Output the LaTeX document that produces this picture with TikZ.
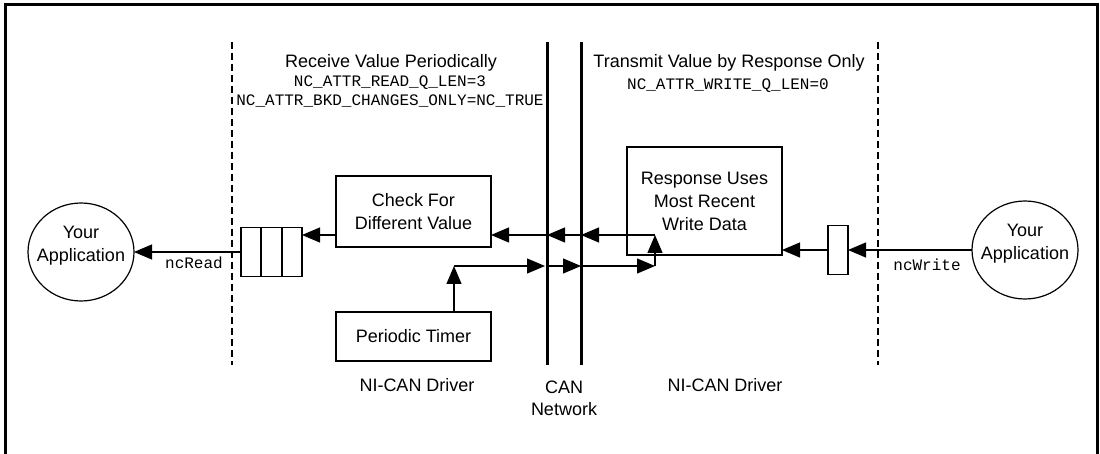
\documentclass[tikz,border=0pt]{standalone}
\usepackage{fontspec}
\setmainfont{Liberation Sans}
\newfontfamily\cmono{Liberation Mono}
\usetikzlibrary{arrows.meta,shapes.geometric}
\begin{document}
\begin{tikzpicture}[x=1pt,y=-1pt,
  sans/.style={font=\fontsize{18}{23}\selectfont},
  mono/.style={font=\cmono\fontsize{16}{20}\selectfont},
  box/.style={draw, line width=1.2pt, sans, align=center, inner sep=0pt, outer sep=0pt, minimum width=155pt},
  app/.style={draw, ellipse, line width=1.2pt, minimum width=106pt, minimum height=98pt, inner sep=0pt, outer sep=0pt},
  arr/.style={line width=1.2pt, -{Triangle[length=18pt,width=15pt]}},
  sepline/.style={line width=1.2pt, dash pattern=on 7pt off 4pt},
  canline/.style={line width=3pt},
  lbl/.style={inner sep=0pt, outer sep=0pt}
]
\useasboundingbox (0,0) rectangle (1100,454);
% frame (open at bottom)
\draw[line width=2.5pt] (5.5,470) -- (5.5,4.5) -- (1097.5,4.5) -- (1097.5,470);

% separators
\coordinate (dL) at (232,42);
\coordinate (dR) at (878,42);
\coordinate (canL) at (547,42);
\coordinate (canR) at (581,42);
\draw[sepline] (dL) -- (232,365);
\draw[sepline] (dR) -- (878,365);
\draw[canline] (canL) -- (547,365);
\draw[canline] (canR) -- (581,365);

% headings
\node[lbl,sans] (hrecv) at (391,63) {Receive Value Periodically};
\node[lbl,mono] (hrq) at (390,83) {NC\_ATTR\_READ\_Q\_LEN=3};
\node[lbl,mono] (hbkd) at (390,101) {NC\_ATTR\_BKD\_CHANGES\_ONLY=NC\_TRUE};
\node[lbl,sans] (hxmit) at (729,63) {Transmit Value by Response Only};
\node[lbl,mono] (hwq) at (728,86) {NC\_ATTR\_WRITE\_Q\_LEN=0};

% nodes
\node[app] (appL) at (81,252) {};
\node[lbl,sans,align=center] (appLt) at (81,246) {Your\\Application};
\node[app] (appR) at (1025,250) {};
\node[lbl,sans,align=center] (appRt) at (1025,244) {Your\\Application};
\node[draw, line width=1.2pt, minimum width=61pt, minimum height=49pt, inner sep=0pt, outer sep=0pt] (queue) at (271.5,252) {};
\draw[line width=2.2pt] ([xshift=20.3pt]queue.north west) -- ([xshift=20.3pt]queue.south west);
\draw[line width=2.2pt] ([xshift=40.7pt]queue.north west) -- ([xshift=40.7pt]queue.south west);
\node[box, minimum height=71pt] (check) at (413.5,211.5) {Check For\\Different Value};
\node[box, minimum height=49pt] (timer) at (413.5,336.5) {Periodic Timer};
\node[box, minimum height=108pt] (resp) at (704.5,201) {Response Uses\\Most Recent\\Write Data};
\node[draw, line width=1.2pt, minimum width=20pt, minimum height=49pt, inner sep=0pt, outer sep=0pt] (wbuf) at (838,250) {};

% junction coordinates
\coordinate (rtop) at (655,235);
\coordinate (rbot) at (655,266);
\coordinate (tjoin) at (454,266);

% left side connectors
\draw[arr] (queue.west) -- (appL.east);
\node[lbl,mono] (ncread) at (194,263) {ncRead};
\draw[arr] (check.west |- rtop) -- (queue.east |- rtop);

% incoming path (response to check)
\draw[arr] (rtop) -- (canR |- rtop);
\draw[arr] (canR |- rtop) -- (canL |- rtop);
\draw[arr] (canL |- rtop) -- (check.east |- rtop);

% outgoing path (timer to response)
\draw[arr] (timer.north -| tjoin) -- (tjoin);
\draw[arr] (tjoin) -- ([xshift=-2pt]canL |- tjoin);
\draw[arr] (canL |- tjoin) -- (canR |- tjoin);
\draw[arr] (canR |- tjoin) -- (rbot);
\draw[arr] (rbot) -- (rtop);

% right side connectors
\draw[arr] (appR.west) -- (wbuf.east |- appR.west);
\draw[arr] (wbuf.west) -- (wbuf.west -| resp.east);
\node[lbl,mono] (ncwrite) at (927,265) {ncWrite};

% bottom labels
\node[lbl,sans] (drvL) at (417,385) {NI-CAN Driver};
\node[lbl,sans,align=center,font=\fontsize{18}{22}\selectfont] (canlbl) at (564,398) {CAN\\Network};
\node[lbl,sans] (drvR) at (725,385) {NI-CAN Driver};
\end{tikzpicture}
\end{document}
